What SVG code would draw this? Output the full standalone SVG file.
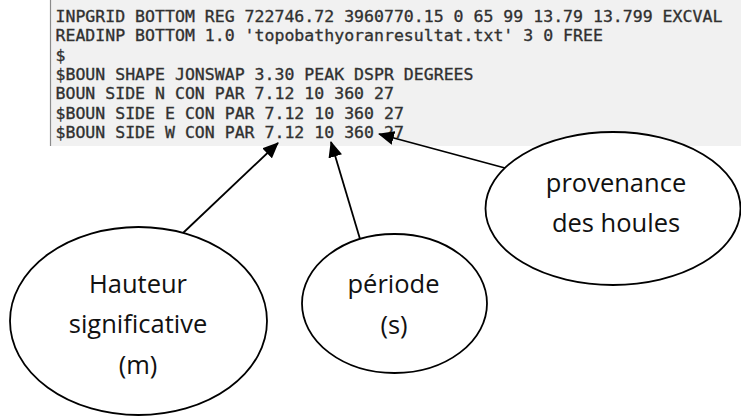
<svg xmlns="http://www.w3.org/2000/svg" width="741" height="416" viewBox="0 0 741 416">
  <style>
    .code { font-family: "DejaVu Sans Mono", "Liberation Mono", monospace; font-size: 16.55px; fill: #2e2e2e; stroke: #3a3a3a; stroke-width: 0.35; }
    .label { font-family: "Open Sans", "Noto Sans", sans-serif; font-size: 25.5px; fill: #111; text-anchor: middle; }
    .bubble { fill: #fff; stroke: #000; stroke-width: 1.8; }
    .link { stroke: #000; stroke-width: 1.8; fill: none; marker-end: url(#head); }
  </style>
  <defs>
    <marker id="head" markerUnits="userSpaceOnUse" markerWidth="16" markerHeight="14" refX="15" refY="7" orient="auto">
      <path d="M0,0 L16,7 L0,14 z" fill="#000"/>
    </marker>
  </defs>

  <rect width="741" height="416" fill="#fff"/>

  <!-- SWAN input listing -->
  <g id="listing">
    <rect x="50" y="0" width="691" height="146" fill="#f1f1f1"/>
    <line x1="50.5" y1="0" x2="50.5" y2="146" stroke="#8a8a8a" stroke-width="1.2"/>
    <text class="code" x="55.5" y="22">INPGRID BOTTOM REG 722746.72 3960770.15 0 65 99 13.79 13.799 EXCVAL</text>
    <text class="code" x="55.5" y="41.3">READINP BOTTOM 1.0 'topobathyoranresultat.txt' 3 0 FREE</text>
    <text class="code" x="55.5" y="60.6">$</text>
    <text class="code" x="55.5" y="79.9">$BOUN SHAPE JONSWAP 3.30 PEAK DSPR DEGREES</text>
    <text class="code" x="55.5" y="99.2">BOUN SIDE N CON PAR 7.12 10 360 27</text>
    <text class="code" x="55.5" y="118.5">$BOUN SIDE E CON PAR 7.12 10 360 27</text>
    <text class="code" x="55.5" y="137.8">$BOUN SIDE W CON PAR 7.12 10 360 27</text>
  </g>

  <!-- callout arrows -->
  <g id="connectors">
    <line class="link" x1="183" y1="233" x2="278" y2="143"/>
    <line class="link" x1="360" y1="239" x2="331" y2="142"/>
    <line class="link" x1="505" y1="168" x2="379" y2="134"/>
  </g>

  <g id="hauteur">
    <ellipse class="bubble" cx="138.5" cy="321" rx="128.5" ry="94"/>
    <text class="label" x="138" y="293">Hauteur</text>
    <text class="label" x="138" y="333">significative</text>
    <text class="label" x="138" y="374">(m)</text>
  </g>

  <g id="periode">
    <ellipse class="bubble" cx="394.5" cy="303.5" rx="92.5" ry="69.5"/>
    <text class="label" x="393.5" y="293">période</text>
    <text class="label" x="394" y="334">(s)</text>
  </g>

  <g id="provenance">
    <ellipse class="bubble" cx="613" cy="208.5" rx="127.5" ry="76.5"/>
    <text class="label" x="616" y="192">provenance</text>
    <text class="label" x="616" y="232">des houles</text>
  </g>
</svg>
